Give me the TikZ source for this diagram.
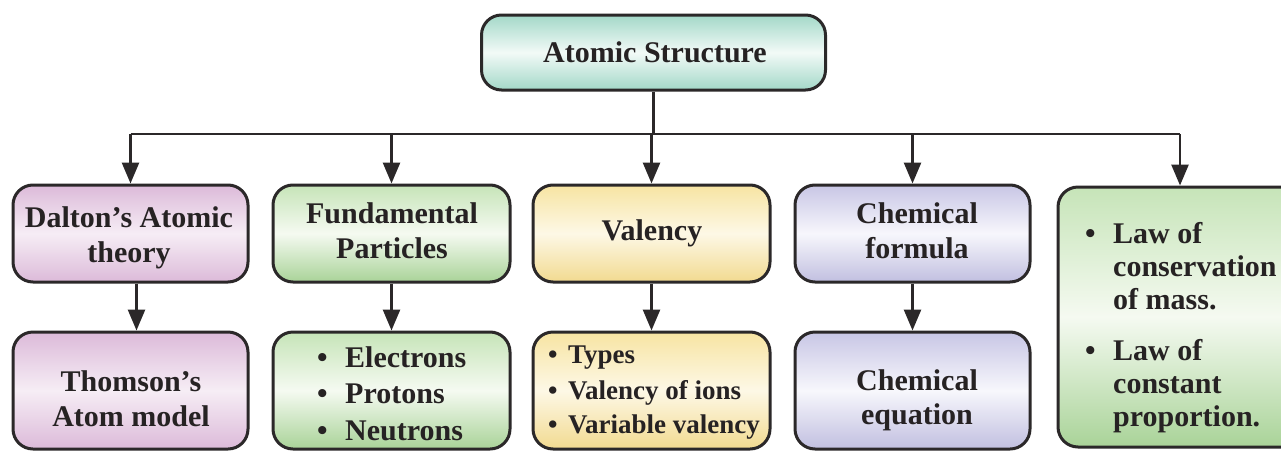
\documentclass[tikz,border=0pt]{standalone}
\usepackage{fontspec}
\setmainfont{Liberation Serif}
\usetikzlibrary{arrows.meta}
\definecolor{linec}{HTML}{2B2829}
\definecolor{textc}{HTML}{262223}
\definecolor{tealE}{HTML}{A3D8C8}
\definecolor{tealM}{HTML}{F2FAF7}
\definecolor{pinkE}{HTML}{DCBAD9}
\definecolor{pinkM}{HTML}{F6EDF5}
\definecolor{greenT}{HTML}{C6E4B8}
\definecolor{greenB}{HTML}{A9D398}
\definecolor{greenM}{HTML}{F5FAF1}
\definecolor{yellT}{HTML}{F7E4A2}
\definecolor{yellB}{HTML}{F2DA90}
\definecolor{yellM}{HTML}{FDF8E6}
\definecolor{lavT}{HTML}{C8C6E5}
\definecolor{lavB}{HTML}{C1BFE0}
\definecolor{lavM}{HTML}{F7F7FC}
\tikzset{
  box/.style={draw=linec, line width=3pt, rounded corners=20pt, inner sep=0pt},
  tealbox/.style={box, top color=tealE, bottom color=tealE, middle color=tealM},
  pinkbox/.style={box, top color=pinkE, bottom color=pinkE, middle color=pinkM},
  greenbox/.style={box, top color=greenT, bottom color=greenB, middle color=greenM},
  yellbox/.style={box, top color=yellT, bottom color=yellB, middle color=yellM},
  lavbox/.style={box, top color=lavT, bottom color=lavB, middle color=lavM},
  conn/.style={draw=linec, line width=2.7pt},
  arr/.style={conn, -{Triangle[length=21pt,width=17pt]}},
  txt/.style={font=\fontsize{30}{36}\selectfont\bfseries, text=textc, inner sep=0pt, anchor=base},
  ltxt/.style={txt, anchor=base west},
  stxt/.style={ltxt, font=\fontsize{27}{33}\selectfont\bfseries},
}
\newcommand{\bul}[1]{\makebox[#1][l]{\textbullet}}
\begin{document}
\begin{tikzpicture}[x=1pt,y=-1pt]
\useasboundingbox (0,0) rectangle (1281,450);
\clip (0,0) rectangle (1281,450);
\fill[white] (0,0) rectangle (1281,450);
% boxes
\node[tealbox, minimum width=344pt, minimum height=75pt] (top) at (653.5,52.5) {};
\node[pinkbox, minimum width=235pt, minimum height=97pt] (b1) at (130.5,233.5) {};
\node[greenbox, minimum width=237pt, minimum height=97pt] (b2) at (391.5,233.5) {};
\node[yellbox, minimum width=237pt, minimum height=97pt] (b3) at (651.5,233.5) {};
\node[lavbox, minimum width=235pt, minimum height=97pt] (b4) at (912.5,233.5) {};
\node[greenbox, minimum width=244pt, minimum height=260pt] (b5) at (1180,317) {};
\node[pinkbox, minimum width=235pt, minimum height=117pt] (c1) at (130.5,390.5) {};
\node[greenbox, minimum width=237pt, minimum height=117pt] (c2) at (391.5,390.5) {};
\node[yellbox, minimum width=237pt, minimum height=117pt] (c3) at (651.5,390.5) {};
\node[lavbox, minimum width=235pt, minimum height=117pt] (c4) at (912.5,390.5) {};
% connectors
\coordinate (hy) at (0,134);
\draw[conn] (top.south) -- (top.south |- hy);
\draw[conn] (b1.north |- hy) -- (b5.north |- hy);
\foreach \b in {b1,b2,b3,b4,b5}{
  \draw[arr] (\b.north |- hy) -- (\b.north);
}
\draw[arr] ([xshift=6pt]b1.south) -- ([xshift=6pt]c1.north);
\draw[arr] (b2.south) -- (c2.north);
\draw[arr] (b3.south) -- (c3.north);
\draw[arr] (b4.south) -- (c4.north);
% texts
\node[txt] (ttop) at (655,62) {Atomic Structure};
\node[txt] (t1a) at (129,227) {Dalton’s Atomic};
\node[txt] (t1b) at (129,262) {theory};
\node[txt] (t2a) at (392,223) {Fundamental};
\node[txt] (t2b) at (392,258) {Particles};
\node[txt] (t3a) at (652,240) {Valency};
\node[txt] (t4a) at (917,223) {Chemical};
\node[txt] (t4b) at (917,258) {formula};
\node[txt] (u1a) at (131,391) {Thomson’s};
\node[txt] (u1b) at (131,426) {Atom model};
\node[ltxt] (u2a) at (317,367) {\bul{28pt}Electrons};
\node[ltxt] (u2b) at (317,403) {\bul{28pt}Protons};
\node[ltxt] (u2c) at (317,440) {\bul{28pt}Neutrons};
\node[stxt] (u3a) at (548,363) {\bul{20pt}Types};
\node[stxt] (u3b) at (548,399) {\bul{20pt}Valency of ions};
\node[stxt] (u3c) at (548,433) {\bul{20pt}Variable valency};
\node[txt] (u4a) at (917,390) {Chemical};
\node[txt] (u4b) at (917,424) {equation};
\node[ltxt] (v1) at (1085,243) {\bul{28pt}Law of};
\node[ltxt] (v2) at (1113,276) {conservation};
\node[ltxt] (v3) at (1113,309) {of mass.};
\node[ltxt] (v4) at (1085,360) {\bul{28pt}Law of};
\node[ltxt] (v5) at (1113,393) {constant};
\node[ltxt] (v6) at (1113,426) {proportion.};
\end{tikzpicture}
\end{document}
